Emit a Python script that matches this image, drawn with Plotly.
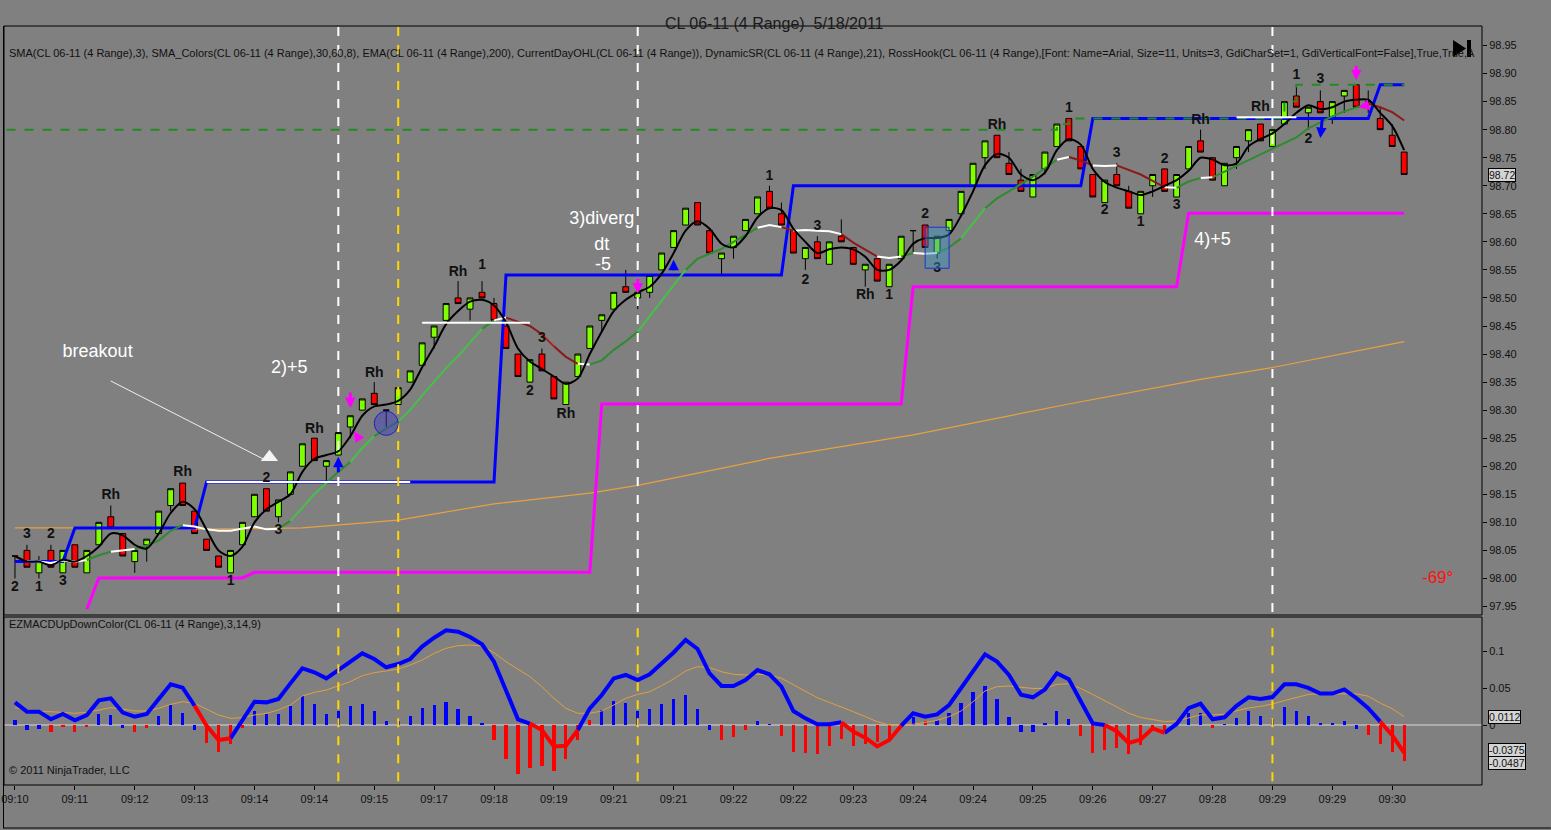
import numpy as np
import pandas as pd
import plotly.graph_objects as go

# CL 06-11 (4 Range) 5/18/2011

# time axis labels (one every 5 bars)
time_labels = ["09:10", "09:11", "09:12", "09:13", "09:14", "09:14", "09:15", "09:17",
               "09:18", "09:19", "09:21", "09:21", "09:22", "09:22", "09:23", "09:24",
               "09:24", "09:25", "09:26", "09:27", "09:28", "09:29", "09:29", "09:30"]

# range bars
bar_open = [98.04, 98.05, 98.01, 98.05, 98.01, 98.06, 98.01, 98.06, 98.11, 98.08,
            98.03, 98.06, 98.08, 98.13, 98.17, 98.12, 98.07, 98.04, 98.01, 98.06,
            98.11, 98.16, 98.11, 98.15, 98.20, 98.25, 98.20, 98.22, 98.27, 98.30,
            98.33, 98.30, 98.31, 98.35, 98.38, 98.43, 98.46, 98.50, 98.48, 98.51,
            98.49, 98.45, 98.40, 98.35, 98.40, 98.36, 98.31, 98.36, 98.41, 98.46,
            98.48, 98.52, 98.50, 98.51, 98.55, 98.59, 98.63, 98.67, 98.62, 98.57,
            98.59, 98.62, 98.65, 98.69, 98.65, 98.62, 98.57, 98.60, 98.56, 98.61,
            98.59, 98.55, 98.57, 98.52, 98.57, 98.62, 98.63, 98.58, 98.62, 98.65,
            98.70, 98.75, 98.79, 98.74, 98.71, 98.68, 98.73, 98.77, 98.82, 98.77,
            98.72, 98.67, 98.72, 98.69, 98.65, 98.70, 98.73, 98.68, 98.73, 98.78,
            98.75, 98.70, 98.75, 98.78, 98.81, 98.77, 98.81, 98.86, 98.83, 98.85,
            98.82, 98.86, 98.88, 98.85, 98.82, 98.79, 98.76]
bar_high = [98.04, 98.06, 98.04, 98.06, 98.05, 98.06, 98.05, 98.10, 98.13, 98.08,
            98.05, 98.07, 98.12, 98.16, 98.17, 98.12, 98.07, 98.04, 98.05, 98.10,
            98.15, 98.16, 98.14, 98.19, 98.24, 98.25, 98.21, 98.26, 98.29, 98.32,
            98.35, 98.30, 98.34, 98.37, 98.42, 98.45, 98.49, 98.53, 98.50, 98.53,
            98.50, 98.45, 98.40, 98.39, 98.41, 98.36, 98.35, 98.40, 98.45, 98.47,
            98.51, 98.55, 98.52, 98.54, 98.58, 98.62, 98.66, 98.67, 98.62, 98.58,
            98.61, 98.64, 98.68, 98.70, 98.67, 98.62, 98.59, 98.61, 98.60, 98.64,
            98.59, 98.56, 98.57, 98.56, 98.61, 98.62, 98.63, 98.61, 98.64, 98.69,
            98.74, 98.78, 98.79, 98.76, 98.73, 98.72, 98.76, 98.81, 98.82, 98.77,
            98.72, 98.71, 98.74, 98.70, 98.69, 98.72, 98.73, 98.72, 98.77, 98.80,
            98.75, 98.74, 98.77, 98.80, 98.81, 98.80, 98.85, 98.88, 98.84, 98.87,
            98.85, 98.87, 98.88, 98.87, 98.84, 98.81, 98.76]
bar_low = [98.00, 98.02, 98.00, 98.02, 98.01, 98.02, 98.01, 98.06, 98.09, 98.04,
           98.01, 98.03, 98.08, 98.12, 98.13, 98.08, 98.05, 98.02, 98.01, 98.06,
           98.11, 98.12, 98.10, 98.15, 98.20, 98.21, 98.17, 98.22, 98.25, 98.30,
           98.31, 98.27, 98.31, 98.35, 98.38, 98.41, 98.46, 98.49, 98.46, 98.50,
           98.46, 98.41, 98.36, 98.35, 98.37, 98.32, 98.31, 98.36, 98.41, 98.44,
           98.48, 98.51, 98.48, 98.50, 98.55, 98.59, 98.63, 98.63, 98.58, 98.54,
           98.57, 98.62, 98.65, 98.66, 98.63, 98.58, 98.55, 98.57, 98.56, 98.60,
           98.56, 98.52, 98.53, 98.52, 98.57, 98.58, 98.59, 98.57, 98.62, 98.65,
           98.70, 98.73, 98.75, 98.72, 98.69, 98.68, 98.72, 98.77, 98.78, 98.73,
           98.68, 98.67, 98.70, 98.66, 98.65, 98.68, 98.69, 98.68, 98.73, 98.76,
           98.71, 98.70, 98.73, 98.76, 98.78, 98.77, 98.81, 98.84, 98.80, 98.83,
           98.81, 98.83, 98.84, 98.83, 98.80, 98.77, 98.72]
bar_close = [98.04, 98.02, 98.03, 98.02, 98.05, 98.02, 98.05, 98.10, 98.09, 98.04,
             98.05, 98.07, 98.12, 98.16, 98.13, 98.08, 98.05, 98.02, 98.05, 98.10,
             98.15, 98.12, 98.14, 98.19, 98.24, 98.21, 98.21, 98.26, 98.29, 98.32,
             98.31, 98.30, 98.34, 98.37, 98.42, 98.45, 98.49, 98.49, 98.50, 98.50,
             98.46, 98.41, 98.36, 98.39, 98.37, 98.32, 98.35, 98.40, 98.45, 98.47,
             98.51, 98.51, 98.51, 98.54, 98.58, 98.62, 98.66, 98.63, 98.58, 98.58,
             98.61, 98.64, 98.68, 98.66, 98.63, 98.58, 98.59, 98.57, 98.60, 98.60,
             98.56, 98.56, 98.53, 98.56, 98.61, 98.62, 98.59, 98.61, 98.64, 98.69,
             98.74, 98.78, 98.75, 98.72, 98.69, 98.72, 98.76, 98.81, 98.78, 98.73,
             98.68, 98.71, 98.70, 98.66, 98.69, 98.72, 98.69, 98.72, 98.77, 98.76,
             98.71, 98.74, 98.77, 98.80, 98.78, 98.80, 98.85, 98.84, 98.84, 98.83,
             98.85, 98.87, 98.84, 98.85, 98.80, 98.77, 98.72]

# EMA(200) read at a few bars
ema_bar = [0, 8, 16, 24, 32, 40, 48, 52, 63, 75, 88, 99, 105, 116]
ema_value = [98.09, 98.09, 98.088, 98.09, 98.104, 98.133, 98.152, 98.166,
             98.214, 98.256, 98.311, 98.355, 98.376, 98.422]

# DynamicSR step levels (bar where the level starts, level)
res_start = [0, 5, 16, 41, 65, 90, 114]
res_value = [98.03, 98.09, 98.172, 98.541, 98.70, 98.82, 98.88]
sup_start = [6, 7, 20, 49, 75, 98]
sup_value = [97.945, 98.001, 98.011, 98.311, 98.52, 98.651]

# CurrentDayOHL high
dayhigh_start = [0, 87, 88, 106, 107]
dayhigh_value = [98.80, 98.81, 98.82, 98.85, 98.88]

# RossHook white levels
hook_start = [16, 34, 102]
hook_end = [33, 43, 107]
hook_price = [98.172, 98.456, 98.822]

# RossHook labels
rh_text = ["2", "3", "1", "2", "3", "Rh", "Rh", "1", "2", "3", "Rh", "Rh",
           "Rh", "1", "2", "3", "Rh", "1", "2", "3", "Rh", "1", "2", "3",
           "Rh", "1", "2", "3", "1", "2", "3", "Rh", "Rh", "1", "3", "2"]
rh_bar = [0, 1, 2, 3, 4, 8, 14, 18, 21, 22, 25, 30,
          37, 39, 43, 44, 46, 63, 66, 67, 71, 73, 76, 77,
          82, 88, 91, 92, 94, 96, 97, 99, 104, 107, 109, 108]
rh_price = [97.983, 98.078, 97.983, 98.078, 97.994, 98.147, 98.188, 97.994, 98.179, 98.085, 98.266, 98.366,
            98.546, 98.557, 98.334, 98.427, 98.293, 98.717, 98.532, 98.628, 98.504, 98.504, 98.648, 98.553,
            98.807, 98.837, 98.655, 98.757, 98.634, 98.746, 98.664, 98.817, 98.839, 98.897, 98.889, 98.783]

# hand-written notes on the chart
note_text = ["breakout", "2)+5", "3)diverg", "dt", "-5", "4)+5"]
note_bar = [6.9, 22.9, 49.0, 49.0, 49.1, 100.0]
note_price = [98.402, 98.375, 98.639, 98.594, 98.557, 98.603]

# marked bars (dashed verticals)
mark_bar = [27, 32, 52, 105]
mark_color = ["white", "#FFD700", "white", "white"]

# EZMACDUpDownColor(3,14,9)
macd_value = [0.0306, 0.018, 0.018, 0.0077, 0.0149, 0.0063, 0.0135, 0.0333, 0.036, 0.0167,
              0.0113, 0.0149, 0.0351, 0.055, 0.0505, 0.026, -0.001, -0.0203, -0.018, 0.0068,
              0.0315, 0.0306, 0.0351, 0.0563, 0.0766, 0.0712, 0.063, 0.0743, 0.0856, 0.0968,
              0.0892, 0.078, 0.0824, 0.0892, 0.1059, 0.118, 0.128, 0.126, 0.119, 0.109,
              0.0856, 0.048, 0.0077, 0.002, -0.0068, -0.029, -0.028, -0.0068, 0.0225, 0.0405,
              0.063, 0.0676, 0.0608, 0.0685, 0.0833, 0.098, 0.1149, 0.1027, 0.0698, 0.0527,
              0.0527, 0.0608, 0.0743, 0.0685, 0.0518, 0.0189, 0.009, 0.001, 0.0009, 0.0036,
              -0.009, -0.0171, -0.029, -0.0203, -0.001, 0.0158, 0.0113, 0.0144, 0.027, 0.0495,
              0.0743, 0.0955, 0.0856, 0.0676, 0.041, 0.0374, 0.048, 0.070, 0.0618, 0.032,
              0.0022, 0.0, -0.0084, -0.0243, -0.0197, -0.0046, -0.0105, 0.0014, 0.0228, 0.0288,
              0.0077, 0.0104, 0.026, 0.0374, 0.0351, 0.0378, 0.0549, 0.0549, 0.0502, 0.0424,
              0.0424, 0.048, 0.0365, 0.0228, 0.0045, -0.0138, -0.0375]
macd_signal = [0.0234, 0.0203, 0.018, 0.018, 0.0171, 0.0158, 0.0171, 0.0203, 0.0234, 0.0216,
               0.0189, 0.0189, 0.0225, 0.0279, 0.0315, 0.0293, 0.0216, 0.0135, 0.009, 0.0099,
               0.0135, 0.0158, 0.0203, 0.027, 0.0392, 0.0441, 0.0473, 0.0532, 0.0586, 0.0667,
               0.0707, 0.073, 0.0757, 0.0811, 0.0878, 0.0968, 0.1036, 0.1072, 0.1081, 0.1068,
               0.0977, 0.0856, 0.075, 0.0653, 0.0518, 0.036, 0.0225, 0.0158, 0.0158, 0.0189,
               0.027, 0.036, 0.0414, 0.045, 0.0532, 0.0622, 0.073, 0.0788, 0.0775, 0.072,
               0.0685, 0.0676, 0.0685, 0.0676, 0.0631, 0.054, 0.0459, 0.0369, 0.0306, 0.0248,
               0.018, 0.0113, 0.0045, 0.0, -0.001, 0.001, 0.0036, 0.0063, 0.0113, 0.0189,
               0.0315, 0.0459, 0.0518, 0.0527, 0.051, 0.0494, 0.0494, 0.0549, 0.0558, 0.0494,
               0.0412, 0.033, 0.0238, 0.016, 0.0101, 0.0069, 0.0046, 0.0055, 0.0101, 0.0137,
               0.0137, 0.0146, 0.0192, 0.0229, 0.0252, 0.0284, 0.033, 0.0375, 0.0412, 0.0421,
               0.0421, 0.0426, 0.0421, 0.0389, 0.0297, 0.022, 0.0112]
macd_hist = [0.0068, -0.0068, -0.0054, -0.0099, -0.0023, -0.0099, -0.0023, 0.0149, 0.0135, -0.0045,
             -0.009, -0.0036, 0.0122, 0.027, 0.0167, -0.0068, -0.0239, -0.036, -0.0261, -0.0036,
             0.0189, 0.0144, 0.0149, 0.0261, 0.0392, 0.0279, 0.0149, 0.0189, 0.0261, 0.0284,
             0.0189, 0.0054, 0.0054, 0.0126, 0.0234, 0.027, 0.0306, 0.0216, 0.0126, 0.0014,
             -0.0203, -0.0455, -0.0665, -0.0577, -0.055, -0.0617, -0.0464, -0.0203, 0.0068, 0.0203,
             0.0324, 0.0302, 0.0189, 0.0216, 0.0284, 0.0351, 0.0405, 0.0216, -0.0068, -0.0203,
             -0.0158, -0.0068, 0.0054, 0.001, -0.0144, -0.036, -0.0374, -0.0396, -0.0279, -0.0194,
             -0.0279, -0.0261, -0.0225, -0.0171, -0.001, 0.0113, 0.0054, 0.0068, 0.0167, 0.0302,
             0.045, 0.0527, 0.0351, 0.0113, -0.01, -0.01, 0.0014, 0.0183, 0.0082, -0.0146,
             -0.0375, -0.0343, -0.0311, -0.0389, -0.0275, -0.0069, -0.0114, 0.0005, 0.016, 0.016,
             -0.0037, 0.0005, 0.0092, 0.0183, 0.0128, 0.0078, 0.0243, 0.0192, 0.0124, 0.0032,
             0.0023, 0.0055, -0.0055, -0.0137, -0.0252, -0.0366, -0.0487]
# histogram colour per bar (b = blue, r = red), ten bars per chunk
hist_dir = "".join(["bbbrrrrbbb", "rrbbbbrrrr", "bbbbbbbbbb", "bbbbbbbbbb",
                    "rrrrrrrrrb", "bbbbbbbbbr", "rrbbrrrrrr", "rrrrrbrbbb",
                    "bbbbbbbbbr", "rrrrrrrbbb", "rbbbbbbbbb", "bbbrrrr"])

font = "Liberation Sans, Arial, sans-serif"
n = len(bar_close)
bars = np.arange(n)

# indicators from the bars
close_s = pd.Series(bar_close)
sma3 = close_s.rolling(3, min_periods=1).mean()
sma8 = close_s.rolling(8, min_periods=1).mean()


def expand_steps(starts, values, length):
    # hold each level from its start bar on
    arr = np.full(length, np.nan)
    for k, s in enumerate(starts):
        arr[s:] = values[k]
    return arr


def split_by_colour(y, cols):
    # consecutive runs of the same colour -> one polyline per colour
    out = {}
    prev = None
    for i in range(1, len(y)):
        c = cols[i]
        xs, ys = out.setdefault(c, ([], []))
        if c != prev:
            if xs:
                xs.append(None)
                ys.append(None)
            xs.append(i - 1)
            ys.append(y[i - 1])
        xs.append(i)
        ys.append(y[i])
        prev = c
    return out


def sma_colour(d):
    if d >= 0.02:
        return "#46C046"
    if d >= 0.006:
        return "#2E8B2E"
    if d > -0.006:
        return "white"
    if d > -0.02:
        return "#8B1A1A"
    return "#B02020"


resistance = expand_steps(res_start, res_value, n)
support = expand_steps(sup_start, sup_value, n)
day_high = expand_steps(dayhigh_start, dayhigh_value, n)

fig = go.Figure()

# EMA 200
fig.add_trace(go.Scatter(x=ema_bar, y=ema_value, mode="lines",
                         line=dict(color="#E8A040", width=1.2), yaxis="y"))
# DynamicSR
fig.add_trace(go.Scatter(x=bars, y=support, mode="lines",
                         line=dict(color="#FF00FF", width=3), yaxis="y"))
fig.add_trace(go.Scatter(x=bars, y=resistance, mode="lines",
                         line=dict(color="#0000FF", width=3), yaxis="y"))
# current day high (runs in from the left edge)
fig.add_trace(go.Scatter(x=np.r_[-0.7, bars], y=np.r_[day_high[0], day_high], mode="lines",
                         line_shape="hv",
                         line=dict(color="#228B22", width=2, dash="dash"), yaxis="y"))

# candles
fig.add_trace(go.Candlestick(
    x=bars, open=bar_open, high=bar_high, low=bar_low, close=bar_close,
    increasing=dict(fillcolor="#80FF00", line=dict(color="black", width=1)),
    decreasing=dict(fillcolor="#FF0000", line=dict(color="black", width=1)),
    whiskerwidth=0, yaxis="y"))

# SMA_Colors(30,60,8)
sma8_cols = ["white"] + [sma_colour(d) for d in sma8.diff().values[1:]]
for col, (xs, ys) in split_by_colour(list(sma8.values), sma8_cols).items():
    fig.add_trace(go.Scatter(x=xs, y=ys, mode="lines",
                             line=dict(color=col, width=2), yaxis="y"))

# SMA(3)
fig.add_trace(go.Scatter(x=bars, y=sma3, mode="lines", line_shape="spline",
                         line=dict(color="black", width=2, smoothing=0.8), yaxis="y"))

# RossHook levels
hx, hy = [], []
for s, e, p in zip(hook_start, hook_end, hook_price):
    hx += [s, e, None]
    hy += [p, p, None]
fig.add_trace(go.Scatter(x=hx, y=hy, mode="lines",
                         line=dict(color="white", width=2), yaxis="y"))

# RossHook labels
fig.add_trace(go.Scatter(x=rh_bar, y=rh_price, mode="text", text=rh_text,
                         textfont=dict(family=font, size=14, color="#111111", weight="bold"),
                         yaxis="y"))

# notes
fig.add_trace(go.Scatter(x=note_bar, y=note_price, mode="text", text=note_text,
                         textfont=dict(family=font, size=18, color="white"), yaxis="y"))

# breakout arrow head
fig.add_trace(go.Scatter(x=[21.25], y=[98.216], mode="markers",
                         marker=dict(symbol="triangle-up", size=15, color="#F4F4F4"),
                         yaxis="y"))

# MACD panel
hist_colors = ["#0000FF" if c == "b" else "#FF0000" for c in hist_dir]
fig.add_trace(go.Bar(x=bars, y=macd_hist, marker=dict(color=hist_colors, line=dict(width=0)),
                     width=0.27, yaxis="y2"))
fig.add_trace(go.Scatter(x=bars, y=macd_signal, mode="lines",
                         line=dict(color="#E0A040", width=1), yaxis="y2"))
macd_cols = ["#FF0000" if v < 0 else "#0000FF" for v in macd_value]
for col, (xs, ys) in split_by_colour(macd_value, macd_cols).items():
    fig.add_trace(go.Scatter(x=xs, y=ys, mode="lines",
                             line=dict(color=col, width=4), yaxis="y2"))

# geometry (pixels -> paper)
W, H = 1551, 830
ml, mr, mt, mb = 1, 69, 26, 45
ph = H - mt - mb
pw = W - ml - mr


def px(x):
    return (x - ml) / pw


def py(y):
    return (H - mb - y) / ph


main_dom = [py(615), 1.0]
low_dom = [0.0, py(617)]

shapes = []
for b, c in zip(mark_bar, mark_color):
    shapes.append(dict(type="line", xref="x", yref="paper", x0=b, x1=b,
                       y0=main_dom[0] + 0.004, y1=1.0, line=dict(color=c, width=2, dash="dash")))
    shapes.append(dict(type="line", xref="x", yref="paper", x0=b, x1=b,
                       y0=0.005, y1=low_dom[1] - 0.004, line=dict(color="#FFD700", width=2, dash="dash")))

# zero line of the MACD panel
shapes.append(dict(type="line", xref="paper", yref="y2", x0=0, x1=1, y0=0, y1=0,
                   line=dict(color="#D8D8D8", width=1), layer="below"))

# breakout pointer line
shapes.append(dict(type="line", xref="x", yref="y", x0=8.0, y0=98.352, x1=21.0, y1=98.21,
                   line=dict(color="#F0F0F0", width=1)))

# circle and box drawn on the chart
shapes.append(dict(type="circle", xref="x", yref="y", x0=30, x1=32, y0=98.255, y1=98.298,
                   fillcolor="rgba(60,60,200,0.45)", line=dict(color="#2020C0", width=1)))
shapes.append(dict(type="rect", xref="x", yref="y", x0=76, x1=78, y0=98.553, y1=98.626,
                   fillcolor="rgba(60,150,200,0.45)", line=dict(color="#2030D0", width=1)))

# panel frames
shapes.append(dict(type="rect", xref="paper", yref="paper", x0=0, x1=1, y0=main_dom[0], y1=1,
                   line=dict(color="black", width=1)))
shapes.append(dict(type="rect", xref="paper", yref="paper", x0=0, x1=1, y0=0, y1=low_dom[1],
                   line=dict(color="black", width=1)))
shapes.append(dict(type="line", xref="paper", yref="paper", x0=px(0.5), x1=px(0.5),
                   y0=py(828), y1=py(26), line=dict(color="black", width=1)))
shapes.append(dict(type="line", xref="paper", yref="paper", x0=px(0), x1=px(1551),
                   y0=py(828), y1=py(828), line=dict(color="black", width=1)))

# ">|" button in the corner
shapes.append(dict(type="path", xref="paper", yref="paper",
                   path="M %f %f L %f %f L %f %f Z" % (px(1453), py(40), px(1453), py(57),
                                                         px(1466), py(48.5)),
                   fillcolor="black", line=dict(color="black", width=0)))
shapes.append(dict(type="rect", xref="paper", yref="paper", x0=px(1467), x1=px(1471),
                   y0=py(57), y1=py(40), fillcolor="black", line=dict(width=0)))

header = ("SMA(CL 06-11 (4 Range),3), SMA_Colors(CL 06-11 (4 Range),30,60,8), "
          "EMA(CL 06-11 (4 Range),200), CurrentDayOHL(CL 06-11 (4 Range)), "
          "DynamicSR(CL 06-11 (4 Range),21), RossHook(CL 06-11 (4 Range),[Font: Name=Arial, "
          "Size=11, Units=3, GdiCharSet=1, GdiVerticalFont=False],True,True,A")

annotations = [
    dict(text="CL 06-11 (4 Range)  5/18/2011", xref="paper", yref="paper", x=px(773), y=py(13),
         showarrow=False, font=dict(family=font, size=16, color="#1A1A1A")),
    dict(text=header, xref="paper", yref="paper", x=px(4), y=py(45), xanchor="left",
         showarrow=False, font=dict(family=font, size=11, color="#111111")),
    dict(text="EZMACDUpDownColor(CL 06-11 (4 Range),3,14,9)", xref="paper", yref="paper",
         x=px(4), y=py(632), xanchor="left", showarrow=False,
         font=dict(family=font, size=11, color="#111111")),
    dict(text="© 2011 NinjaTrader, LLC", xref="paper", yref="paper", x=px(4), y=py(778),
         xanchor="left", showarrow=False, font=dict(family=font, size=11, color="#111111")),
    dict(text="-69°", xref="x", yref="y", x=118.75, y=98.001, showarrow=False,
         font=dict(family=font, size=17, color="#FF1010")),
]

# small signal arrows
arrow_bar = [27, 28, 28.3, 52, 55, 109, 112, 112.2]
arrow_price = [98.217, 98.304, 98.262, 98.508, 98.568, 98.785, 98.888, 98.84]
arrow_dx = [0, 0, 6, 0, 0, 2, 0, 9]
arrow_dy = [17, -17, 9, -16, 12, -20, -16, -2]
arrow_col = ["#0000FF", "#FF00FF", "#FF00FF", "#FF00FF", "#0000FF", "#0000FF", "#FF00FF", "#FF00FF"]
for b, p, dx, dy, c in zip(arrow_bar, arrow_price, arrow_dx, arrow_dy, arrow_col):
    annotations.append(dict(x=b, y=p, xref="x", yref="y", ax=dx, ay=dy, text="",
                            showarrow=True, arrowhead=2, arrowsize=0.7, arrowwidth=3,
                            arrowcolor=c))

# last value tags on the axes
tags = [(98.72, "y", "98.72", 0), (0.0112, "y2", "0.0112", 0),
        (-0.0375, "y2", "-0.0375", 3), (-0.0487, "y2", "-0.0487", -2)]
for v, ax_ref, txt, shift in tags:
    annotations.append(dict(text=txt, xref="paper", yref=ax_ref, x=1.0, y=v, xanchor="left",
                            xshift=6, yshift=shift, showarrow=False, bgcolor="#D4D4D4",
                            bordercolor="black", borderwidth=1, borderpad=0,
                            font=dict(family=font, size=10.5, color="#111111")))

price_ticks = [round(97.95 + 0.05 * k, 2) for k in range(21)]

fig.update_layout(
    width=W, height=H,
    margin=dict(l=ml, r=mr, t=mt, b=mb),
    paper_bgcolor="#808080", plot_bgcolor="#808080",
    showlegend=False, hovermode=False, boxgap=0.3, bargap=0,
    font=dict(family=font, size=11, color="#111111"),
    xaxis=dict(range=[-0.917, -0.917 + pw / 12.0], anchor="y2", domain=[0, 1],
               tickvals=list(range(0, n, 5)), ticktext=time_labels,
               ticks="outside", ticklen=4, tickcolor="black", showgrid=False,
               zeroline=False, showline=False, rangeslider=dict(visible=False),
               ticklabeloverflow="allow",
               tickfont=dict(family=font, size=11, color="#111111")),
    yaxis=dict(domain=main_dom, side="right", anchor="x",
               range=[98.95 - (615 - 45.5) / 561, 98.95 + (45.5 - 26) / 561],
               tickvals=price_ticks, ticktext=["%.2f" % t for t in price_ticks],
               ticks="outside", ticklen=4, tickcolor="black", showgrid=False, zeroline=False,
               tickfont=dict(family=font, size=11, color="#111111")),
    yaxis2=dict(domain=low_dom, side="right", anchor="x",
                range=[(725 - 785) / 740, (725 - 617) / 740],
                tickvals=[0, 0.05, 0.1], ticktext=["0", "0.05", "0.1"],
                ticks="outside", ticklen=4, tickcolor="black", showgrid=False, zeroline=False,
                tickfont=dict(family=font, size=11, color="#111111")),
    shapes=shapes,
    annotations=annotations,
)

fig.write_html("out.html", config={"displayModeBar": False},
               post_script="document.body.style.margin='0';document.body.style.overflow='hidden';")
